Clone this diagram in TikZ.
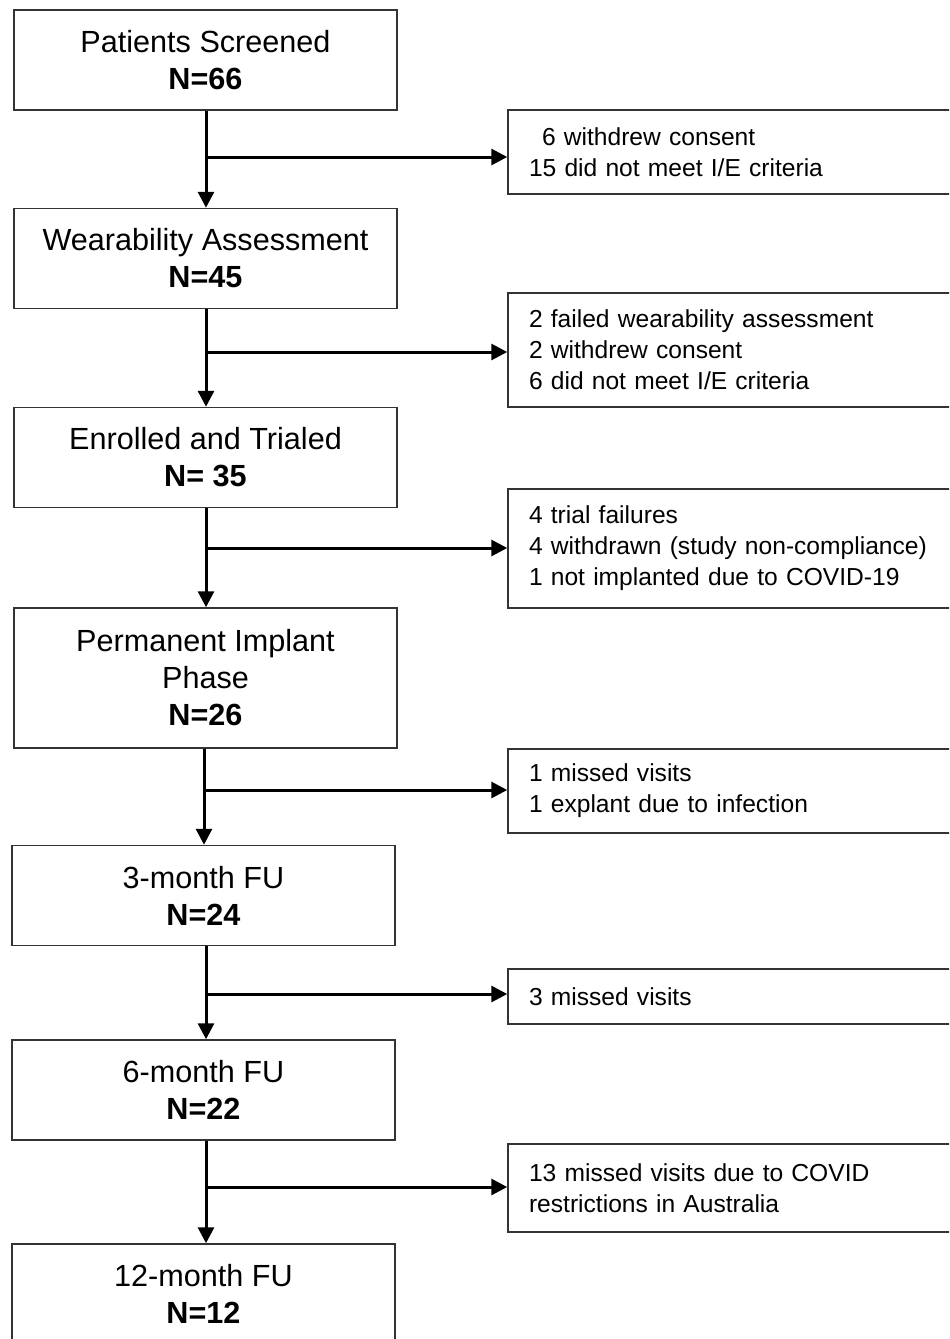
\documentclass[tikz,border=0pt]{standalone}
\usepackage{fontspec}
\setmainfont{Liberation Sans}
\usepackage{tikz}
\usetikzlibrary{arrows.meta}

\begin{document}
\begin{tikzpicture}[x=0.5pt, y=-0.5pt,
    mainbox/.style={draw=black!80, line width=0.75pt, minimum width=191.5pt,
      minimum height=50pt, align=center, inner sep=0pt,
      font=\fontsize{15.3pt}{18.5pt}\selectfont},
    sidebox/.style={draw=black!80, line width=0.75pt, minimum width=226pt,
      text width=205pt, inner xsep=10.5pt, inner ysep=0pt, align=left,
      font=\fontsize{12.3pt}{15.5pt}\selectfont},
    flow/.style={line width=1.5pt, -{Triangle[length=8pt, width=8pt]}}]
    \clip (0,0) rectangle (949,1339);

    \node[mainbox] (b1) at (205.5,60) {Patients Screened\\ \textbf{N=66}};
    \node[mainbox] (b2) at (205.5,258.5) {Wearability Assessment\\ \textbf{N=45}};
    \node[mainbox] (b3) at (205.5,457.5) {Enrolled and Trialed\\ \textbf{N= 35}};
    \node[mainbox, minimum height=70pt] (b4) at (205.5,678) {Permanent Implant\\ Phase\\ \textbf{N=26}};
    \node[mainbox] (b5) at (203.5,895.5) {3-month FU\\ \textbf{N=24}};
    \node[mainbox] (b6) at (203.5,1090) {6-month FU\\ \textbf{N=22}};
    \node[mainbox] (b7) at (203.5,1294) {12-month FU\\ \textbf{N=12}};

    \node[sidebox, minimum height=42pt] (s1) at (734,152)
      {\hspace*{6.5pt}6 withdrew consent\\ 15 did not meet I/E criteria};
    \node[sidebox, minimum height=57pt] (s2) at (734,350)
      {2 failed wearability assessment\\ 2 withdrew consent\\ 6 did not meet I/E criteria};
    \node[sidebox, minimum height=59.5pt] (s3) at (734,548.5)
      {4 trial failures\\ 4 withdrawn (study non-compliance)\\ 1 not implanted due to COVID-19};
    \node[sidebox, minimum height=42pt] (s4) at (734,791)
      {1 missed visits\\ 1 explant due to infection};
    \node[sidebox, minimum height=27.5pt] (s5) at (734,996.5) {3 missed visits};
    \node[sidebox, minimum height=44pt] (s6) at (734,1188)
      {13 missed visits due to COVID\\ restrictions in Australia};

    % joints on the main line
    \coordinate (j1) at (206,157);
    \coordinate (j2) at (206,352);
    \coordinate (j3) at (206,548);
    \coordinate (j4) at (204,790);
    \coordinate (j5) at (206,994);
    \coordinate (j6) at (206,1187);

    \draw[flow] (j1 |- b1.south) -- (j1 |- b2.north);
    \draw[flow] (j2 |- b2.south) -- (j2 |- b3.north);
    \draw[flow] (j3 |- b3.south) -- (j3 |- b4.north);
    \draw[flow] (j4 |- b4.south) -- (j4 |- b5.north);
    \draw[flow] (j5 |- b5.south) -- (j5 |- b6.north);
    \draw[flow] (j6 |- b6.south) -- (j6 |- b7.north);

    \draw[flow] (j1) -- (j1 -| s1.west);
    \draw[flow] (j2) -- (j2 -| s2.west);
    \draw[flow] (j3) -- (j3 -| s3.west);
    \draw[flow] (j4) -- (j4 -| s4.west);
    \draw[flow] (j5) -- (j5 -| s5.west);
    \draw[flow] (j6) -- (j6 -| s6.west);
  \end{tikzpicture}
\end{document}
